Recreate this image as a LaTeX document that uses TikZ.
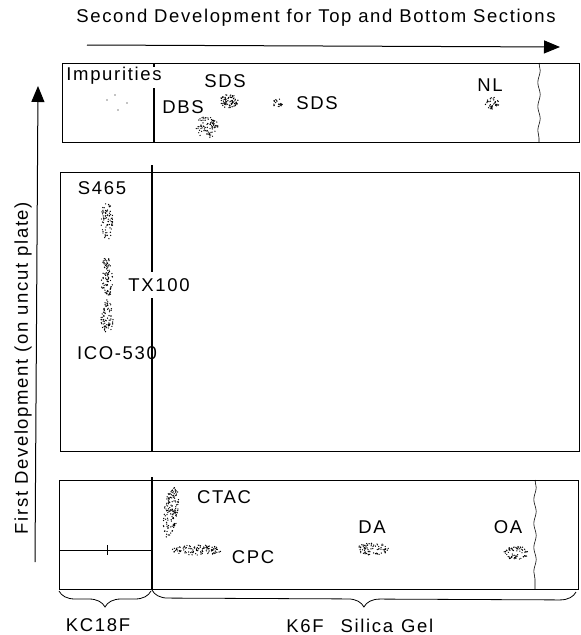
\documentclass[tikz,border=0pt]{standalone}
\usepackage{fontspec}
\setmainfont{Liberation Sans}[LetterSpace=9]
\usepackage{tikz}
\usetikzlibrary{arrows.meta,decorations.pathreplacing,decorations.pathmorphing}

% stippled spot: centre x, centre y, x radius, y radius, number of dots
\newcommand{\stipple}[5]{%
  \foreach \k in {1,...,#5}{
    \pgfmathsetmacro{\aa}{360*rnd}
    \pgfmathsetmacro{\rr}{sqrt(rnd)}
    \fill ({#1+#3*\rr*cos(\aa)},{#2+#4*\rr*sin(\aa)}) circle[radius=0.7pt];
  }}

\begin{document}
\begin{tikzpicture}[x=1pt, y=-1pt, >={Triangle[length=16pt,width=13pt]},
  lbl/.style={font=\fontsize{18.5}{22}\selectfont, inner sep=1pt},
  plate/.style={line width=0.9pt},
  divider/.style={line width=2.4pt},
  front/.style={line width=0.6pt, decorate, decoration={snake, amplitude=1.2pt, segment length=24pt}},
  curly/.style={line width=0.8pt, decorate, decoration={brace, mirror, amplitude=16pt}}]
\useasboundingbox (0,0) rectangle (581,635);
\pgfmathsetseed{42}

%--- Development directions ---
\node[lbl] (title) at (316,18) {Second Development for Top and Bottom Sections};
\coordinate (hS) at (87,45);
\coordinate (hE) at (560,47);
\draw[->, line width=1pt] (hS) -- (hE);
\coordinate (vS) at (35,562);
\coordinate (vE) at (38,86);
\draw[->, line width=1pt] (vS) -- (vE);
\node[lbl, rotate=90] (first) at (23,368) {First Development (on uncut plate)};

%--- Top section ---
\draw[plate] (62,63) rectangle (579,142);
\draw[divider] (154,63) -- (154,67);
\draw[divider] (154,88) -- (154,142);
\draw[front] (539,63) -- (539,142);

\node[lbl] (imp) at (114,76) {Impurities};
\foreach \px/\py in {107/100, 127/103, 118/110, 115/95} {
  \fill (\px,\py) circle[radius=0.7pt];
}
\node[lbl] (sdsA) at (225,81) {SDS};
\stipple{229}{101}{9}{7}{75}
\node[lbl] (dbs) at (183,107) {DBS};
\stipple{207}{127}{11}{11}{85}
\stipple{278}{103}{5}{5}{22}
\node[lbl] (sdsB) at (317,103) {SDS};
\node[lbl] (nl) at (490,85) {NL};
\stipple{492}{103}{7}{6}{40}

%--- Middle section (first development) ---
\draw[plate] (60,172) rectangle (579,451);
\draw[divider] (152,165) -- (152,451);

\node[lbl] (s465) at (102,188) {S465};
\stipple{107}{221}{6}{19}{75}
\stipple{107}{278}{6}{22}{90}
\stipple{107}{318}{6}{17}{75}
\node[lbl, fill=white, inner ysep=6pt] (tx) at (159,285) {TX100};
\node[lbl] (ico) at (117,353) {ICO-530};

%--- Bottom section ---
\draw[plate] (59,480) rectangle (578,589);
\draw[divider] (152,477) -- (152,590);
\draw[front] (535,480) -- (535,589);
\draw[line width=0.6pt] (59,550) -- (152,550);
\draw[line width=0.8pt] (107,545) -- (107,555);

\begin{scope}[rotate around={-7:(171,512)}]
  \stipple{171}{512}{7}{26}{140}
\end{scope}
\node[lbl] (ctac) at (224,497) {CTAC};
\stipple{197}{550}{25}{5}{110}
\node[lbl] (cpc) at (253,557) {CPC};
\node[lbl] (da) at (372,527) {DA};
\stipple{373}{549}{16}{6}{75}
\node[lbl] (oa) at (508,527) {OA};
\stipple{516}{553}{12}{7}{65}

%--- Plate materials ---
\draw[curly] (59,591) -- (151,591);
\draw[curly] (152,590) -- (576,592);
\node[lbl] (kc) at (98,625) {KC18F};
\node[lbl] (k6f) at (305,626) {K6F};
\node[lbl] (silica) at (387,626) {Silica\hspace{8pt}Gel};
\end{tikzpicture}
\end{document}
